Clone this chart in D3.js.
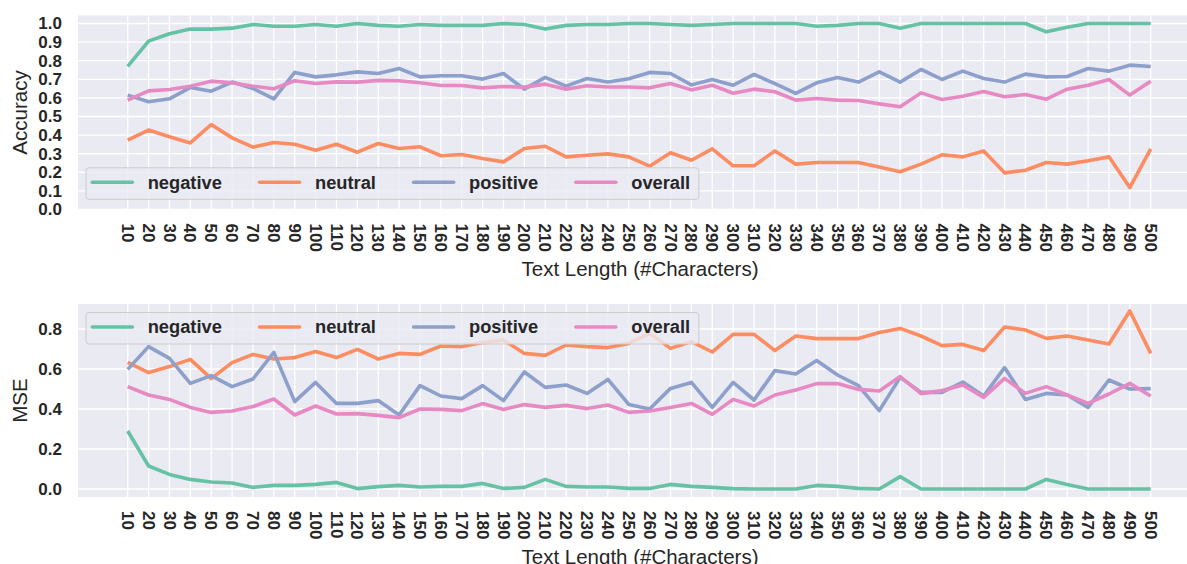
<!DOCTYPE html>
<html>
<head>
<meta charset="utf-8">
<script src="https://cdn.jsdelivr.net/npm/d3@7"></script>
<style>
body { margin: 0; background: #fff; }
text { font-family: "Liberation Sans", Arial, sans-serif; fill: #262626; }
</style>
</head>
<body>
<script>
// text length buckets (x axis)
var lengths = [10,20,30,40,50,60,70,80,90,100,110,120,130,140,150,160,170,180,190,200,
	210,220,230,240,250,260,270,280,290,300,310,320,330,340,350,360,370,380,390,400,
	410,420,430,440,450,460,470,480,490,500];

var seriesNames = ["negative", "neutral", "positive", "overall"];
var seriesColors = ["#66c2a5", "#fc8d62", "#8da0cb", "#e78ac3"];

// accuracy (top panel)
var accNegative = [0.77,0.905,0.945,0.97,0.97,0.975,0.995,0.985,0.985,0.995,0.985,1.0,0.99,0.985,0.995,0.99,0.99,0.99,1.0,0.995,
	0.97,0.99,0.995,0.995,1.0,1.0,0.995,0.99,0.995,1.0,1.0,1.0,1.0,0.985,0.99,1.0,1.0,0.975,1.0,1.0,
	1.0,1.0,1.0,1.0,0.955,0.98,1.0,1.0,1.0,1.0];
var accNeutral = [0.373,0.427,0.391,0.358,0.457,0.385,0.335,0.36,0.351,0.319,0.351,0.308,0.355,0.328,0.337,0.289,0.296,0.274,0.256,0.328,
	0.34,0.283,0.292,0.299,0.283,0.233,0.305,0.265,0.326,0.235,0.235,0.315,0.244,0.253,0.253,0.253,0.229,0.203,0.244,0.294,
	0.283,0.315,0.197,0.211,0.253,0.244,0.262,0.283,0.118,0.326];
var accPositive = [0.615,0.579,0.595,0.656,0.636,0.685,0.651,0.595,0.737,0.713,0.724,0.74,0.731,0.758,0.713,0.719,0.719,0.701,0.731,0.647,
	0.71,0.663,0.704,0.685,0.703,0.737,0.731,0.67,0.699,0.668,0.726,0.677,0.624,0.681,0.71,0.685,0.74,0.685,0.753,0.699,
	0.744,0.704,0.685,0.728,0.713,0.715,0.758,0.744,0.776,0.769];
var accOverall = [0.588,0.638,0.645,0.663,0.69,0.681,0.663,0.649,0.692,0.677,0.686,0.685,0.694,0.692,0.681,0.667,0.667,0.654,0.661,0.658,
	0.674,0.647,0.665,0.659,0.659,0.654,0.677,0.643,0.668,0.625,0.647,0.633,0.588,0.597,0.588,0.586,0.568,0.552,0.627,0.591,
	0.609,0.634,0.606,0.618,0.593,0.647,0.668,0.699,0.615,0.69];

// mse (bottom panel)
var mseNegative = [0.29,0.115,0.073,0.048,0.035,0.03,0.008,0.018,0.018,0.023,0.033,0.002,0.012,0.018,0.01,0.013,0.013,0.028,0.003,0.008,
	0.048,0.013,0.01,0.01,0.003,0.003,0.023,0.013,0.008,0.002,0.0,0.0,0.0,0.018,0.013,0.003,0.0,0.062,0.0,0.0,
	0.0,0.0,0.0,0.0,0.048,0.022,0.0,0.0,0.0,0.0];
var mseNeutral = [0.633,0.582,0.612,0.648,0.552,0.632,0.673,0.65,0.657,0.687,0.657,0.698,0.65,0.678,0.673,0.715,0.712,0.732,0.745,0.678,
	0.668,0.72,0.712,0.707,0.728,0.778,0.703,0.737,0.685,0.773,0.773,0.692,0.765,0.752,0.752,0.752,0.782,0.803,0.765,0.717,
	0.723,0.692,0.81,0.795,0.753,0.765,0.745,0.725,0.89,0.678];
var msePositive = [0.598,0.712,0.653,0.528,0.567,0.512,0.55,0.683,0.437,0.533,0.428,0.428,0.442,0.37,0.517,0.465,0.452,0.517,0.442,0.585,
	0.508,0.52,0.478,0.548,0.423,0.4,0.503,0.533,0.408,0.533,0.445,0.592,0.575,0.642,0.57,0.517,0.392,0.558,0.483,0.483,
	0.535,0.465,0.607,0.448,0.478,0.47,0.408,0.545,0.5,0.502];
var mseOverall = [0.512,0.47,0.448,0.408,0.383,0.39,0.412,0.45,0.37,0.415,0.375,0.377,0.368,0.357,0.4,0.398,0.392,0.427,0.398,0.422,
	0.408,0.418,0.402,0.42,0.383,0.39,0.408,0.428,0.373,0.448,0.415,0.47,0.495,0.527,0.527,0.498,0.49,0.562,0.477,0.492,
	0.52,0.458,0.553,0.478,0.512,0.47,0.428,0.475,0.528,0.465];

var accTicks = [0.0,0.1,0.2,0.3,0.4,0.5,0.6,0.7,0.8,0.9,1.0];
var mseTicks = [0.0,0.2,0.4,0.6,0.8];

var W = 1187, H = 564;
var plotLeft = 78, plotRight = 1200;

var svg = d3.select("body").append("svg").attr("width", W).attr("height", H);

var x = d3.scalePoint().domain(lengths).range([127.7, 1150.7]);

function drawPanel(cfg) {
	var y = d3.scaleLinear().domain(cfg.domain).range([cfg.bottom, cfg.top]);
	var g = svg.append("g");

	g.append("rect")
		.attr("x", plotLeft).attr("y", cfg.top)
		.attr("width", plotRight - plotLeft).attr("height", cfg.bottom - cfg.top)
		.attr("fill", "#eaeaf2");

	// grid
	g.selectAll(".vgrid").data(lengths).enter().append("line")
		.attr("x1", function(d){ return x(d); }).attr("x2", function(d){ return x(d); })
		.attr("y1", cfg.top).attr("y2", cfg.bottom)
		.attr("stroke", "#fff").attr("stroke-width", 1.3);
	g.selectAll(".hgrid").data(cfg.ticks).enter().append("line")
		.attr("x1", plotLeft).attr("x2", plotRight)
		.attr("y1", function(d){ return y(d); }).attr("y2", function(d){ return y(d); })
		.attr("stroke", "#fff").attr("stroke-width", 1.3);

	// lines
	var line = d3.line().x(function(d, i){ return x(lengths[i]); }).y(function(d){ return y(d); });
	cfg.series.forEach(function(s, k) {
		g.append("path").datum(s)
			.attr("d", line)
			.attr("fill", "none")
			.attr("stroke", seriesColors[k])
			.attr("stroke-width", 3.6)
			.attr("stroke-linejoin", "round");
	});

	// y tick labels
	g.selectAll(".ytick").data(cfg.ticks).enter().append("text")
		.attr("x", 62).attr("y", function(d){ return y(d); })
		.attr("dy", "0.35em")
		.attr("text-anchor", "end")
		.style("font-size", "17px").style("font-weight", "bold")
		.text(d3.format(".1f"));

	// x tick labels, rotated
	g.selectAll(".xtick").data(lengths).enter().append("text")
		.attr("transform", function(d){ return "translate(" + x(d) + "," + (cfg.bottom + 14) + ") rotate(90)"; })
		.attr("dy", "0.35em")
		.style("font-size", "17px").style("font-weight", "bold")
		.text(function(d){ return d; });

	// axis labels
	g.append("text")
		.attr("transform", "translate(27," + ((cfg.top + cfg.bottom) / 2) + ") rotate(-90)")
		.attr("text-anchor", "middle")
		.style("font-size", "20.5px")
		.text(cfg.ylabel);
	g.append("text")
		.attr("x", 640).attr("y", cfg.bottom + 66.5)
		.attr("text-anchor", "middle")
		.style("font-size", "20.5px")
		.text("Text Length (#Characters)");

	// legend
	var lg = svg.append("g");
	var box = lg.append("rect")
		.attr("x", 86).attr("y", cfg.legendY - 14.5)
		.attr("height", 31.5).attr("rx", 3)
		.attr("fill", "#eaeaf2").attr("fill-opacity", 0.8)
		.attr("stroke", "#cccccc").attr("stroke-width", 1);
	var cx = 92.3;
	seriesNames.forEach(function(name, k) {
		lg.append("line")
			.attr("x1", cx).attr("x2", cx + 40)
			.attr("y1", cfg.legendY).attr("y2", cfg.legendY)
			.attr("stroke", seriesColors[k]).attr("stroke-width", 3.6)
			.attr("stroke-linecap", "round");
		var t = lg.append("text")
			.attr("x", cx + 55.4).attr("y", cfg.legendY)
			.attr("dy", "0.35em")
			.style("font-size", "18.3px").style("font-weight", "bold")
			.text(name);
		var w = t.node().getComputedTextLength();
		cx = cx + 55.4 + w + (k < seriesNames.length - 1 ? 37.7 : 8.7);
	});
	box.attr("width", cx - 86);
}

drawPanel({
	top: 15.5, bottom: 209.5, domain: [0, 1.043], ticks: accTicks,
	ylabel: "Accuracy", legendY: 182.3,
	series: [accNegative, accNeutral, accPositive, accOverall]
});

drawPanel({
	top: 304, bottom: 497, domain: [-0.04, 0.925], ticks: mseTicks,
	ylabel: "MSE", legendY: 327,
	series: [mseNegative, mseNeutral, msePositive, mseOverall]
});
</script>
</body>
</html>
